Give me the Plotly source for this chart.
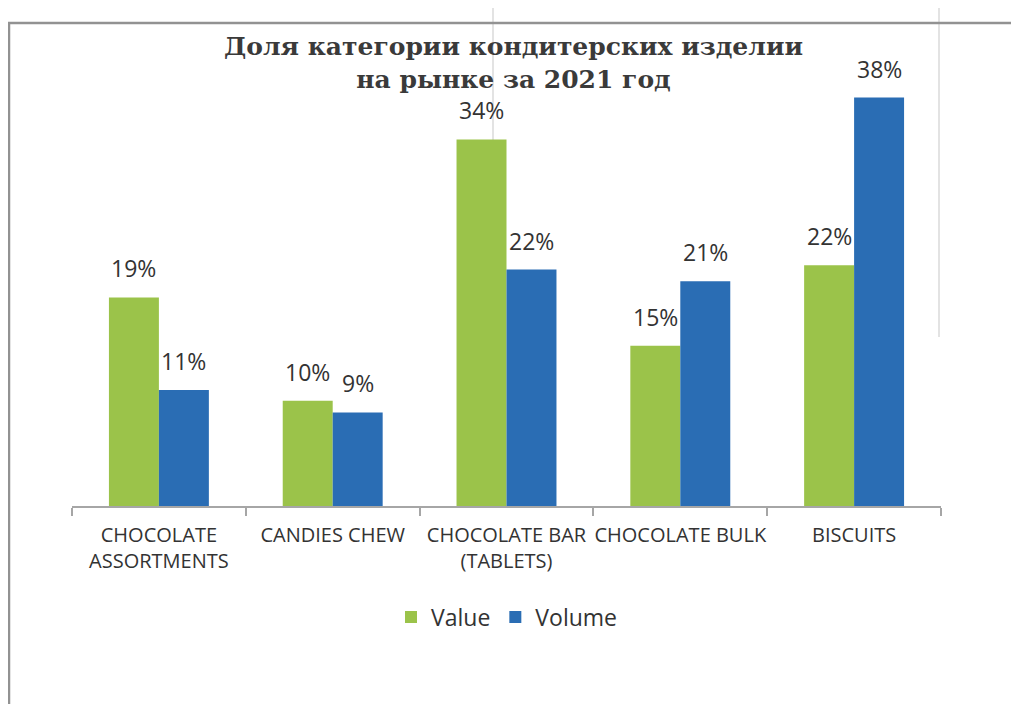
import plotly.graph_objects as go

categories = ["CHOCOLATE<br>ASSORTMENTS", "CANDIES CHEW", "CHOCOLATE BAR<br>(TABLETS)",
              "CHOCOLATE BULK", "BISCUITS"]
value_share = [19.4, 9.8, 34.1, 14.9, 22.4]
volume_share = [10.8, 8.7, 22.0, 20.9, 38.0]
value_labels = ["19%", "10%", "34%", "15%", "22%"]
volume_labels = ["11%", "9%", "22%", "21%", "38%"]

GREEN = "#9BC34A"
BLUE = "#2A6DB4"
TXT = "#333333"

# page has an 8px body margin; work in window pixels and subtract it
OFF = 8
W, H = 1019 - OFF, 704 - OFF
L, R, T, B = 72 - OFF, 941 - OFF, 76 - OFF, 506 - OFF

def px_x(p):
    return (p - OFF - L) / (R - L)

def px_y(p):
    return (B - (p - OFF)) / (B - T)

fig = go.Figure()
fig.add_trace(go.Bar(name="Value", x=categories, y=value_share, marker_color=GREEN,
                     marker_line_width=0))
fig.add_trace(go.Bar(name="Volume", x=categories, y=volume_share, marker_color=BLUE,
                     marker_line_width=0))

annotations = []
for c, v, t in zip(categories, value_share, value_labels):
    annotations.append(dict(x=c, y=v, text=t, xref="x", yref="y", showarrow=False,
                            xshift=-25, yshift=12, yanchor="bottom", borderpad=0,
                            font=dict(family="Open Sans", size=23, color=TXT)))
for c, v, t in zip(categories, volume_share, volume_labels):
    annotations.append(dict(x=c, y=v, text=t, xref="x", yref="y", showarrow=False,
                            xshift=25, yshift=12, yanchor="bottom", borderpad=0,
                            font=dict(family="Open Sans", size=23, color=TXT)))

shapes = [
    # light vertical guide lines
    dict(type="line", xref="paper", yref="paper", x0=px_x(493), x1=px_x(493),
         y0=px_y(8), y1=px_y(506), line=dict(color="#E3E3E3", width=2), layer="below"),
    dict(type="line", xref="paper", yref="paper", x0=px_x(939), x1=px_x(939),
         y0=px_y(8), y1=px_y(337), line=dict(color="#E3E3E3", width=2), layer="below"),
    # frame lines
    dict(type="line", xref="paper", yref="paper", x0=px_x(8), x1=px_x(1019),
         y0=px_y(23), y1=px_y(23), line=dict(color="#929292", width=2.5)),
    dict(type="line", xref="paper", yref="paper", x0=px_x(9), x1=px_x(9),
         y0=px_y(23), y1=px_y(704), line=dict(color="#929292", width=2.5)),
]

fig.update_layout(
    width=W, height=H,
    margin=dict(l=L, r=W - R, t=T, b=H - B, autoexpand=False),
    paper_bgcolor="white", plot_bgcolor="white",
    barmode="group", bargap=0.425, bargroupgap=0,
    title=dict(text="Доля категории кондитерских изделии<br>на рынке за 2021 год",
               x=0.5, xref="container", xanchor="center",
               y=1 - 47 / H, yref="container", yanchor="top",
               font=dict(family="DejaVu Serif", size=25, color="#3A3A3A", weight="bold")),
    xaxis=dict(showline=True, linecolor="#A6A6A6", linewidth=1.5,
               ticks="outside", tickson="boundaries", ticklen=8, tickcolor="#A6A6A6",
               tickwidth=1.5, showgrid=False, ticklabelstandoff=10, tickangle=0,
               tickfont=dict(family="Open Sans", size=20, color=TXT)),
    yaxis=dict(range=[0, 40], visible=False, showgrid=False),
    legend=dict(orientation="h", x=0.5, xanchor="center", y=px_y(617), yanchor="middle",
                font=dict(family="Open Sans", size=23, color=TXT), itemwidth=30,
                traceorder="normal"),
    annotations=annotations,
    shapes=shapes,
)

fig.write_html("out.html")
